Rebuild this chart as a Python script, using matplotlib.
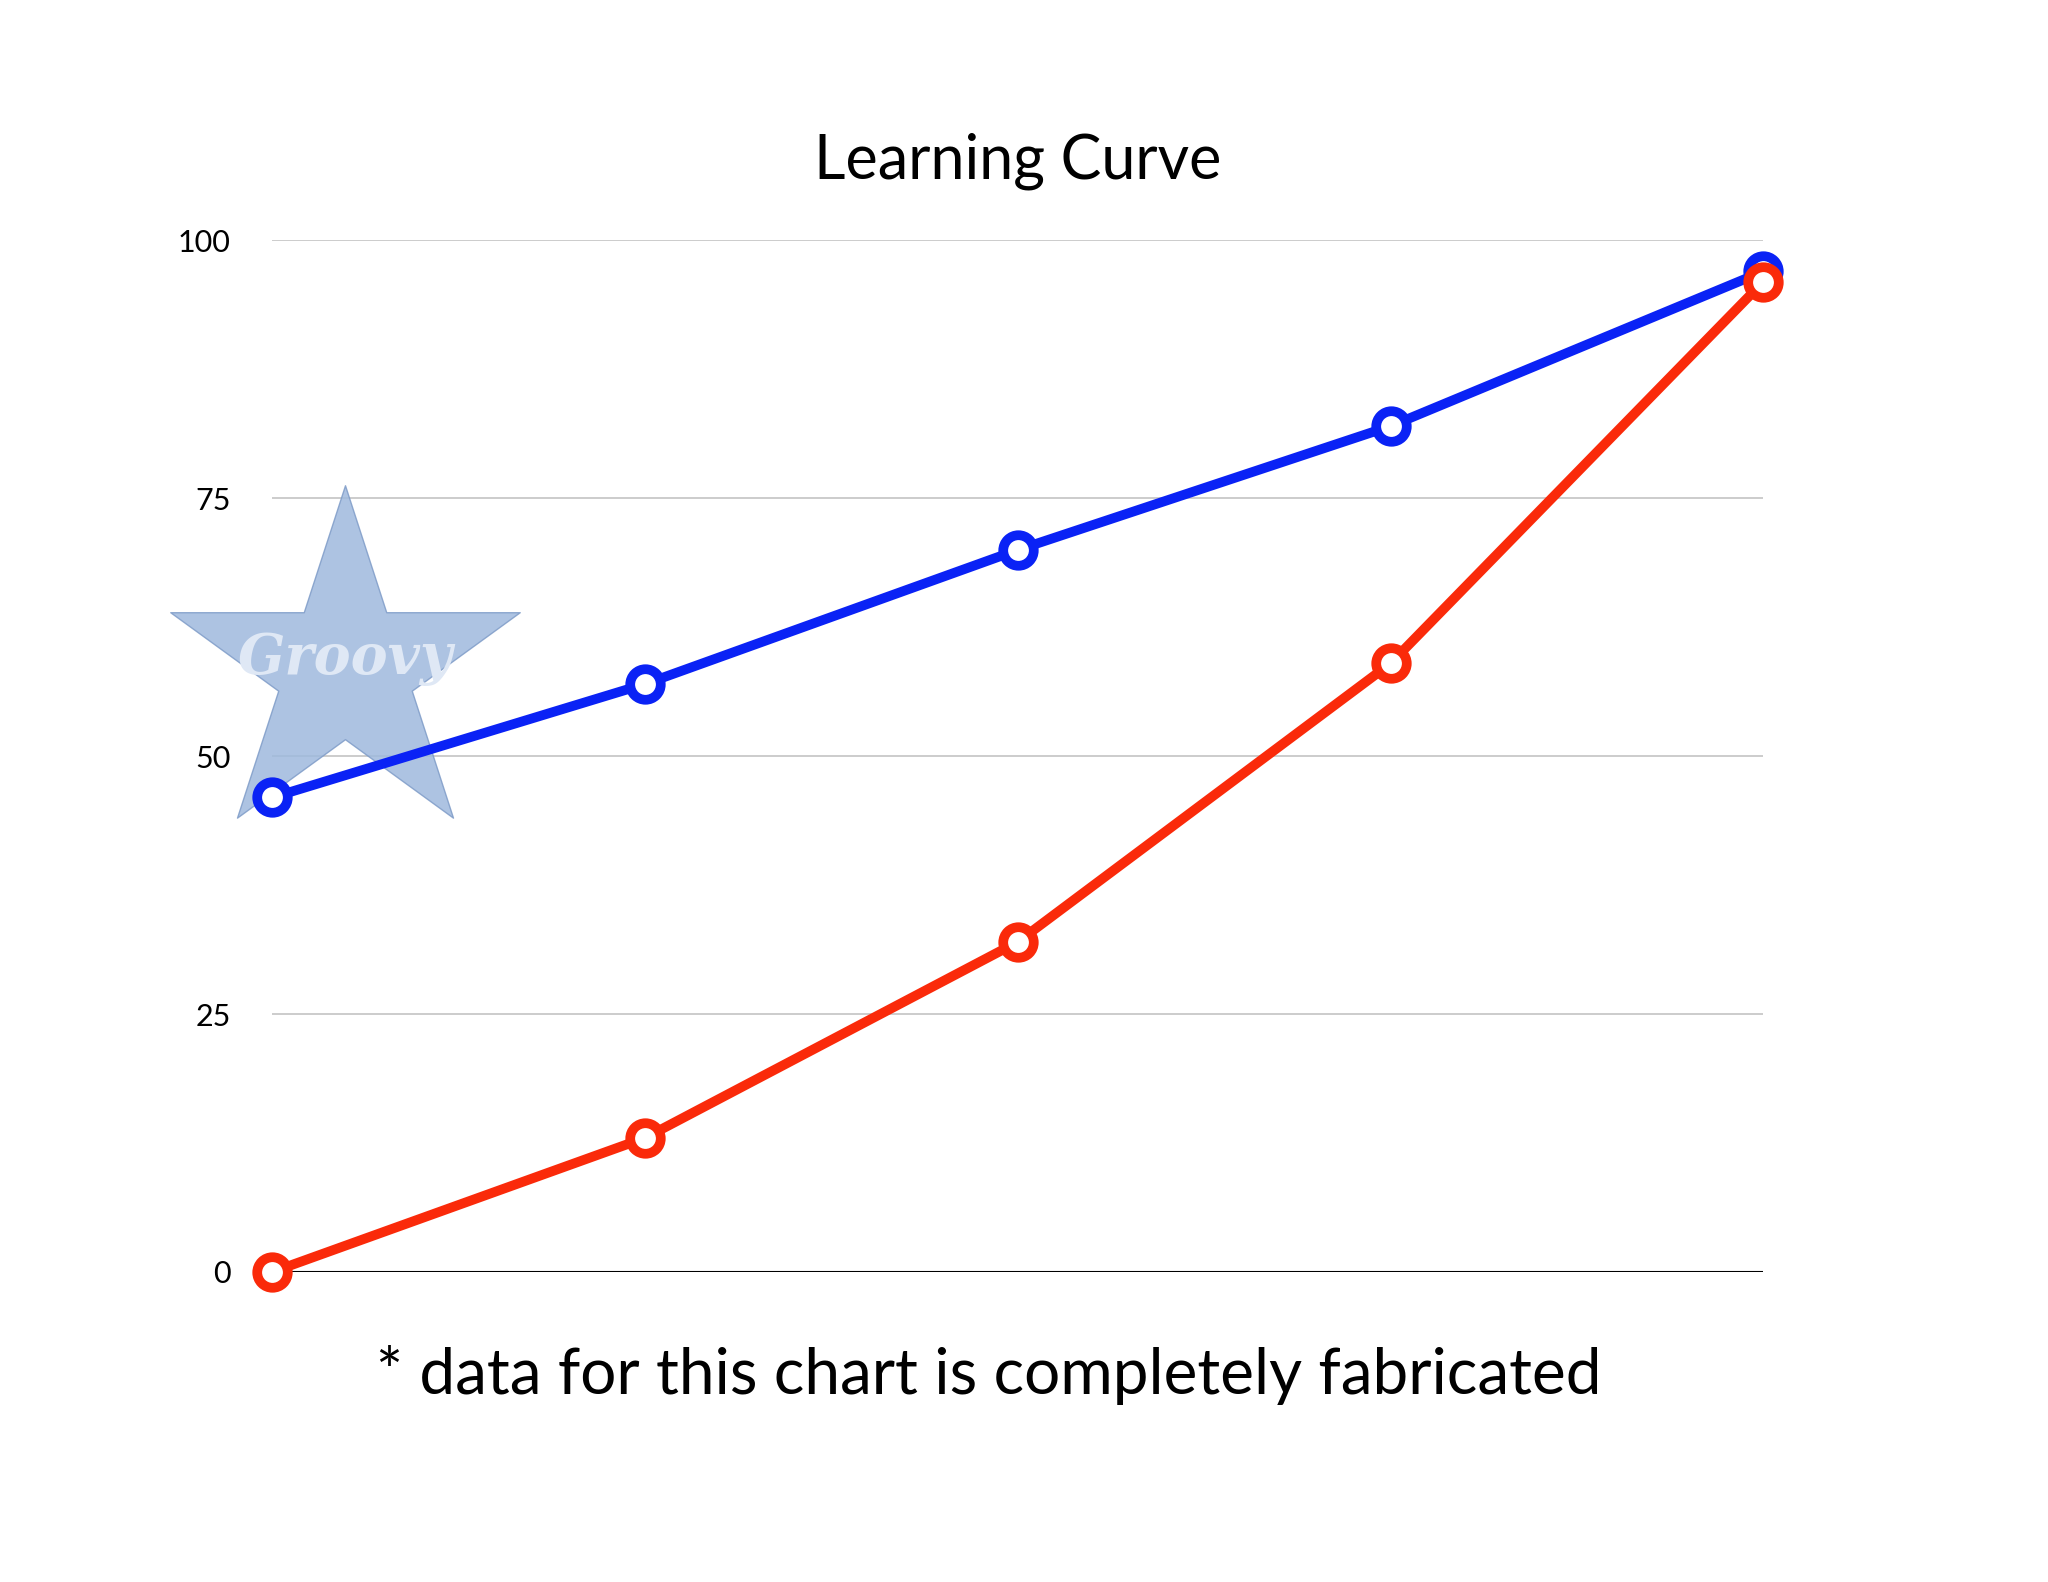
import matplotlib
matplotlib.use("Agg")
import matplotlib.pyplot as plt

categories = [0, 1, 2, 3, 4]
blue_values = [46, 57, 70, 82, 97]
red_values = [0, 13, 32, 59, 96]
yticks = [0, 25, 50, 75, 100]

plt.rcParams['font.family'] = ['Lato', 'DejaVu Sans']
fig = plt.figure(figsize=(20.48, 15.82), dpi=100)
ax = fig.add_axes([0.133, 0.196, 0.728, 0.652])
ax.set_xlim(0, 4)
ax.set_ylim(0, 100)
for y in yticks[1:]:
    ax.axhline(y, color='#c8c8c8', lw=1.3, zorder=0)
ax.axhline(0, color='black', lw=1.5, zorder=0)
for s in ax.spines.values():
    s.set_visible(False)
ax.set_xticks([])
ax.set_yticks(yticks)
ax.tick_params(axis='y', length=0, labelsize=22, pad=30)

ax.plot(categories, blue_values, color='#0a22f5', lw=7, marker='o', ms=22,
        mfc='white', mec='#0a22f5', mew=7, clip_on=False, zorder=3)
ax.plot(categories, red_values, color='#fa2a0a', lw=7, marker='o', ms=22,
        mfc='white', mec='#fa2a0a', mew=7, clip_on=False, zorder=4)

# Groovy logo approximation
ax.scatter([0.196], [58.5], marker='*', s=70000, color='#9fb9dd', alpha=0.85,
           edgecolors='#7f9cc8', zorder=2, clip_on=False)
ax.text(0.196, 59.5, 'Groovy', fontsize=40, style='italic', fontweight='bold',
        color='#dfe8f5', ha='center', va='center', zorder=2,
        family='DejaVu Serif')

fig.text(0.497, 0.898, 'Learning Curve', fontsize=44, ha='center', va='center')
fig.text(0.483, 0.131, '* data for this chart is completely fabricated',
         fontsize=46, ha='center', va='center')
fig.savefig('out.png', dpi=100)
